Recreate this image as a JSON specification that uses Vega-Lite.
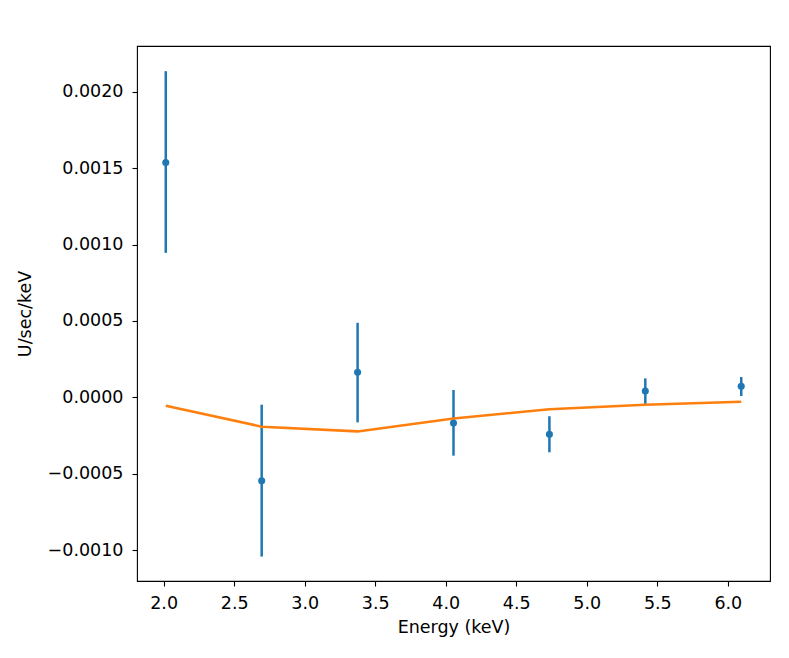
{
  "$schema": "https://vega.github.io/schema/vega-lite/v6.json",
  "description": "Spectrum residuals with error bars and model line",
  "width": 633,
  "height": 535,
  "autosize": "none",
  "padding": {"left": 137, "top": 46, "right": 19, "bottom": 77},
  "background": "white",
  "config": {
    "font": "DejaVu Sans",
    "view": {"stroke": "black", "strokeWidth": 1.1},
    "axis": {
      "grid": false,
      "domain": false,
      "tickColor": "black",
      "tickSize": 5,
      "tickWidth": 1.1,
      "labelFont": "DejaVu Sans",
      "labelFontSize": 17.5,
      "labelColor": "black",
      "labelPadding": 8,
      "titleFont": "DejaVu Sans",
      "titleFontSize": 17.5,
      "titleFontWeight": "normal",
      "titleColor": "black"
    }
  },
  "datasets": {
    "obs": [
      {"energy": 2.015, "rate": 0.001538, "lo": 0.000946, "hi": 0.002136},
      {"energy": 2.695, "rate": -0.000546, "lo": -0.001043, "hi": -0.0000484},
      {"energy": 3.375, "rate": 0.000164, "lo": -0.000164, "hi": 0.000488},
      {"energy": 4.055, "rate": -0.000168, "lo": -0.000382, "hi": 0.0000478},
      {"energy": 4.735, "rate": -0.000242, "lo": -0.00036, "hi": -0.000124},
      {"energy": 5.415, "rate": 0.0000412, "lo": -0.0000439, "hi": 0.000124},
      {"energy": 6.095, "rate": 0.000072, "lo": 0.0000085, "hi": 0.000133}
    ],
    "model": [
      {"energy": 2.015, "model": -0.000055},
      {"energy": 2.695, "model": -0.000192},
      {"energy": 3.375, "model": -0.000223},
      {"energy": 4.055, "model": -0.000138},
      {"energy": 4.735, "model": -0.0000786},
      {"energy": 5.415, "model": -0.0000484},
      {"energy": 6.095, "model": -0.0000288}
    ]
  },
  "encoding": {
    "x": {
      "field": "energy",
      "type": "quantitative",
      "title": "Energy (keV)",
      "scale": {"domain": [1.811, 6.299], "nice": false, "zero": false},
      "axis": {"values": [2.0, 2.5, 3.0, 3.5, 4.0, 4.5, 5.0, 5.5, 6.0], "format": ".1f", "titlePadding": 7}
    }
  },
  "layer": [
    {
      "data": {"name": "obs"},
      "mark": {"type": "rule", "color": "#1f77b4", "strokeWidth": 2.5},
      "encoding": {
        "y": {
          "field": "lo",
          "type": "quantitative",
          "title": "U/sec/keV",
          "scale": {"domain": [-0.001203, 0.002301], "nice": false, "zero": false},
          "axis": {"values": [-0.001, -0.0005, 0, 0.0005, 0.001, 0.0015, 0.002], "format": ".4f", "labelPadding": 9, "titlePadding": 13}
        },
        "y2": {"field": "hi"}
      }
    },
    {
      "data": {"name": "obs"},
      "mark": {"type": "circle", "color": "#1f77b4", "size": 50, "opacity": 1},
      "encoding": {
        "y": {"field": "rate", "type": "quantitative"}
      }
    },
    {
      "data": {"name": "model"},
      "mark": {"type": "line", "color": "#ff7f0e", "strokeWidth": 2.5},
      "encoding": {
        "y": {"field": "model", "type": "quantitative"}
      }
    }
  ]
}
